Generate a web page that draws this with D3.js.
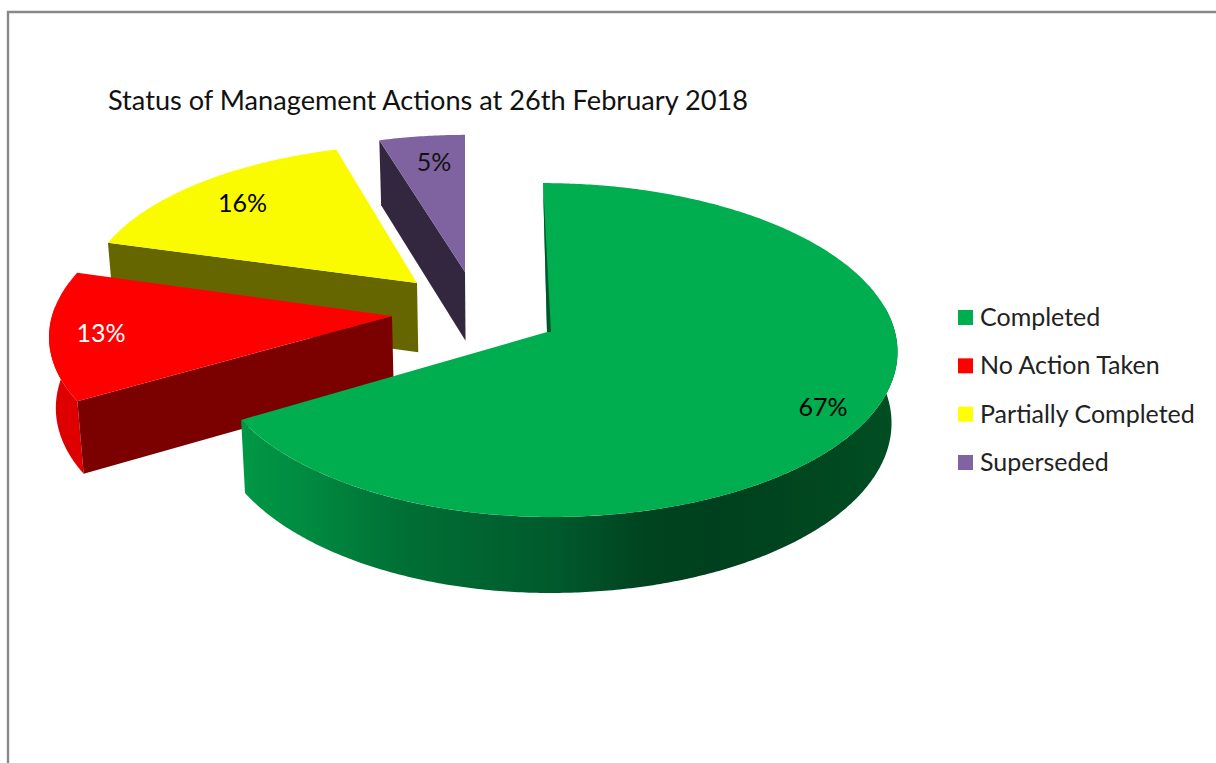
<!DOCTYPE html>
<html>
<head>
<meta charset="utf-8">
<script src="https://cdnjs.cloudflare.com/ajax/libs/d3/7.8.5/d3.min.js"></script>
<style>
html,body{margin:0;padding:0;background:#fff;overflow:hidden}
svg{display:block}
text{font-family:Lato,"Open Sans",sans-serif}
</style>
</head>
<body>
<svg id="c" width="1216" height="763"></svg>
<script>
// Data
const titleText = "Status of Management Actions at 26th February 2018";
const categories = ["Completed", "No Action Taken", "Partially Completed", "Superseded"];
const shares = [66.6, 12.9, 15.9, 4.6];

// Styles
const topColors = ["#00AD4F", "#FF0000", "#FBFB00", "#7F63A1"];
const legendColors = ["#00AD4F", "#FF0000", "#FFFF00", "#8064A2"];
const edgeColors = ["#00552B", "#7B0000", "#666600", "#33263F"];
const labelColors = ["#000", "#fff", "#000", "#111"];

// Per-slice projection of the exploded, tilted pie
const views = [
  {ax:547, ay:332, bl:337, br:348, a:165, k:0.108, s:4,    lr:0.87, lx:-1},
  {ax:392, ay:316, bl:340, br:340, a:160, k:0.108, s:-8,   lr:0.85, lx:0},
  {ax:417, ay:283, bl:329, br:329, a:146, k:0.05,  s:-9.1, lr:0.80, lx:2},
  {ax:465, ay:272, bl:315, br:315, a:144, k:0.05,  s:0,    lr:0.80, lx:4}
];

const svg = d3.select("#c");
const defs = svg.append("defs");

const arcs = d3.pie().sort(null).value(d => d)(shares);

function project(view, angle, r) {
  const u = Math.sin(angle) * r, v = -Math.cos(angle) * r;
  const den = 1 - view.k * v;
  return [view.ax + (u < 0 ? view.bl : view.br) * u / den + view.s * v,
          view.ay + view.a * v / den];
}
const depth = d3.scaleLinear().domain([140, 517]).range([65, 76]);
const lower = p => [500 + (p[0] - 500) * 0.985, p[1] + depth(p[1])];
const line = d3.line();
const rim = (view, a0, a1) => {
  const n = Math.max(2, Math.ceil(Math.abs(a1 - a0) / 0.01));
  return d3.range(n + 1).map(i => project(view, a0 + (a1 - a0) * i / n, 1));
};
const closed = pts => line(pts) + "Z";

// Border
svg.append("path").attr("d", line([[8, 763], [8, 12], [1216, 12]]))
  .attr("fill", "none").attr("stroke", "#888").attr("stroke-width", 2.4);

// Title
svg.append("text").attr("x", 108).attr("y", 110)
  .attr("font-size", 26).attr("fill", "#111")
  .attr("textLength", 640).attr("lengthAdjust", "spacingAndGlyphs").text(titleText);

// Green wall gradient
const grad = defs.append("linearGradient").attr("id", "wall")
  .attr("gradientUnits", "userSpaceOnUse")
  .attr("x1", 244).attr("x2", 895).attr("y1", 0).attr("y2", 0);
[[0, "#009745"], [0.1, "#008A40"], [0.24, "#007035"], [0.48, "#00592C"],
 [0.62, "#00431F"], [0.72, "#00401E"], [0.88, "#00471F"], [1, "#004E24"]]
  .forEach(([o, c]) => grad.append("stop").attr("offset", o).attr("stop-color", c));

const drawOrder = [3, 2, 1, 0];

drawOrder.forEach(i => {
  const arc = arcs[i], view = views[i];
  const g = svg.append("g");
  const apex = [view.ax, view.ay];
  const startPt = project(view, arc.startAngle, 1);

  if (i === 0) {
    const top = rim(view, Math.PI * 0.45, arc.endAngle);
    g.append("path").attr("d", closed(top.concat(top.map(lower).reverse())))
      .attr("fill", "url(#wall)");
  }
  if (i === 1) {
    const top = rim(view, arc.startAngle, Math.PI * 1.52);
    g.append("path").attr("d", closed(top.concat(top.map(lower).reverse())))
      .attr("fill", "#DE0000");
  }
  if (i > 0) {
    g.append("path").attr("d", closed([apex, startPt, lower(startPt), lower(apex)]))
      .attr("fill", edgeColors[i]);
  }

  // top face
  const face = [apex].concat(rim(view, arc.startAngle, arc.endAngle));
  g.append("path").attr("d", closed(face)).attr("fill", topColors[i]);

  if (i === 0) {
    g.append("path")
      .attr("d", closed([project(view, 0, 1), [apex[0] + 4, apex[1]], apex]))
      .attr("fill", edgeColors[i]);
  }
});

// Data labels
arcs.forEach((arc, i) => {
  const view = views[i];
  const p = project(view, (arc.startAngle + arc.endAngle) / 2, view.lr);
  svg.append("text").attr("x", p[0] + view.lx).attr("y", p[1] + 9)
    .attr("text-anchor", "middle").attr("font-size", 25)
    .attr("fill", labelColors[i]).text(Math.round(arc.data) + "%");
});

// Legend
const rowY = d3.scalePoint().domain(categories).range([318, 463]);
const legend = svg.append("g").selectAll("g").data(categories).join("g")
  .attr("transform", d => `translate(958,${rowY(d)})`);
legend.append("rect").attr("x", 0).attr("y", -8).attr("width", 15).attr("height", 15)
  .attr("fill", (d, i) => legendColors[i]);
legend.append("text").attr("x", 22).attr("y", 8)
  .attr("font-size", 25).attr("fill", "#222").text(d => d);
</script>
</body>
</html>
